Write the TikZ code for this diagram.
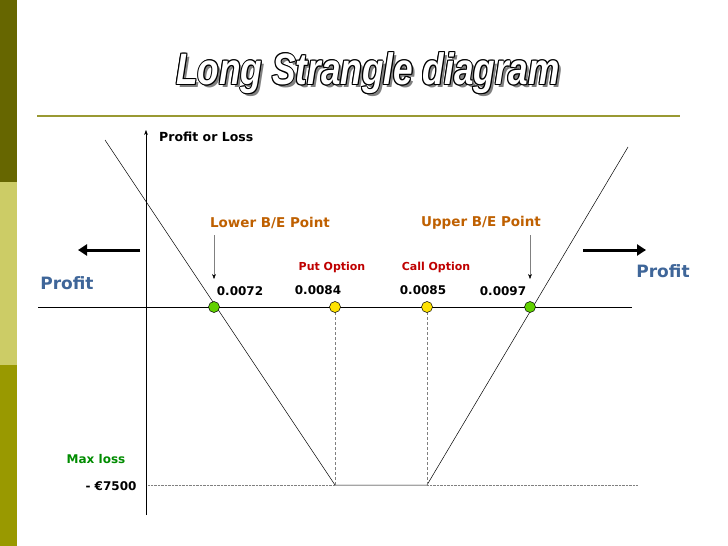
\documentclass[tikz,border=0pt]{standalone}
\usetikzlibrary{arrows.meta}
\usepackage{fontspec}
\setmainfont{DejaVu Sans}
\newfontfamily\titlefont{Liberation Sans}
\definecolor{barA}{HTML}{666600}
\definecolor{barB}{HTML}{CCCC66}
\definecolor{barC}{HTML}{999900}
\definecolor{rulec}{HTML}{999933}
\begin{document}
\begin{tikzpicture}[x=1pt,y=-1pt,
  lbl/.style={font=\bfseries\fontsize{12}{13}\selectfont,inner sep=0pt},
  dot/.style={circle,draw=black,line width=0.5pt,minimum size=11pt,inner sep=0pt},
  tlt/.style={font=\titlefont\bfseries\itshape\fontsize{44}{46}\selectfont,xscale=0.8,inner sep=0pt}]
\useasboundingbox (0,0) rectangle (728,546);
\fill[white] (0,0) rectangle (728,546);
\fill[barA] (0,0) rectangle (17,182);
\fill[barB] (0,182) rectangle (17,365);
\fill[barC] (0,365) rectangle (17,546);
% title
\node[tlt,text=gray] at (371,76) {Long Strangle diagram};
\foreach \dx/\dy in {-1/0,1/0,0/-1,0/1,-0.8/-0.8,0.8/0.8,-0.8/0.8,0.8/-0.8}
  \node[tlt,text=black] at (368+\dx,73+\dy) {Long Strangle diagram};
\node[tlt,text=white] (title) at (368,73) {Long Strangle diagram};
\draw[line width=2pt,rulec] (37,116) -- (680,116);
% axes
\coordinate (xl) at (38,307); \coordinate (xr) at (632,307);
\coordinate (yb) at (146,515); \coordinate (yt) at (146,130);
\draw[line width=0.5pt] (xl) -- (xr);
\draw[line width=0.5pt,-{Stealth[length=5pt]}] (yb) -- (yt);
\node[lbl,anchor=west,font=\bfseries\fontsize{12.5}{14}\selectfont] (pl) at (159,137) {Profit or Loss};
% payoff
\coordinate (a) at (105,140); \coordinate (b) at (335,485);
\coordinate (c) at (427,485); \coordinate (d) at (628,147);
\draw[line width=0.5pt] (a) -- (b) -- (c) -- (d);
\coordinate (ml) at (148,485); \coordinate (mr) at (638,485);
\draw[densely dotted,gray] (ml) -- (b); \draw[densely dotted,gray] (c) -- (mr);
\coordinate (pb) at (335,307); \coordinate (cb) at (427,307);
\draw[densely dashed,gray,line width=0.5pt] (pb) -- (b);
\draw[densely dashed,gray,line width=0.5pt] (cb) -- (c);
\node[dot,fill=green!55!olive!80!yellow] (d1) at (214,307) {};
\node[dot,fill=yellow!85!orange] (d2) at (335,307) {};
\node[dot,fill=yellow!85!orange] (d3) at (427,307) {};
\node[dot,fill=green!55!olive!80!yellow] (d4) at (530,307) {};
% labels
\node[lbl] (n1) at (240,291) {0.0072};
\node[lbl] (n2) at (318,290) {0.0084};
\node[lbl] (n3) at (423,290) {0.0085};
\node[lbl] (n4) at (503,291) {0.0097};
\node[lbl,red!75!black,font=\bfseries\fontsize{11}{12}\selectfont] (po) at (332,267) {Put Option};
\node[lbl,red!75!black,font=\bfseries\fontsize{11}{12}\selectfont] (co) at (436,267) {Call Option};
\node[lbl,orange!75!black,font=\bfseries\fontsize{13.5}{15}\selectfont] (lb) at (270,223) {Lower B/E Point};
\node[lbl,orange!75!black,font=\bfseries\fontsize{13.5}{15}\selectfont] (ub) at (481,223) {Upper B/E Point};
\coordinate (la) at (214,235); \coordinate (lz) at (214,279);
\coordinate (ua) at (530,235); \coordinate (uz) at (530,279);
\draw[gray,-{Stealth[length=5pt,black]}] (la) -- (lz);
\draw[gray,-{Stealth[length=5pt,black]}] (ua) -- (uz);
\node[lbl,font=\bfseries\fontsize{17}{19}\selectfont,text=cyan!50!blue!70!black] (pL) at (67,283) {Profit};
\node[lbl,font=\bfseries\fontsize{17}{19}\selectfont,text=cyan!50!blue!70!black] (pR) at (663,271) {Profit};
\coordinate (al1) at (140,250); \coordinate (al2) at (78,250);
\coordinate (ar1) at (583,250); \coordinate (ar2) at (646,250);
\draw[line width=3pt,-{Triangle[length=9pt,width=11pt]}] (al1) -- (al2);
\draw[line width=3pt,-{Triangle[length=9pt,width=11pt]}] (ar1) -- (ar2);
\node[lbl,text=green!55!black] (mx) at (96,459) {Max loss};
\node[lbl] (ml7) at (111,486) {- €7500};
\end{tikzpicture}
\end{document}
